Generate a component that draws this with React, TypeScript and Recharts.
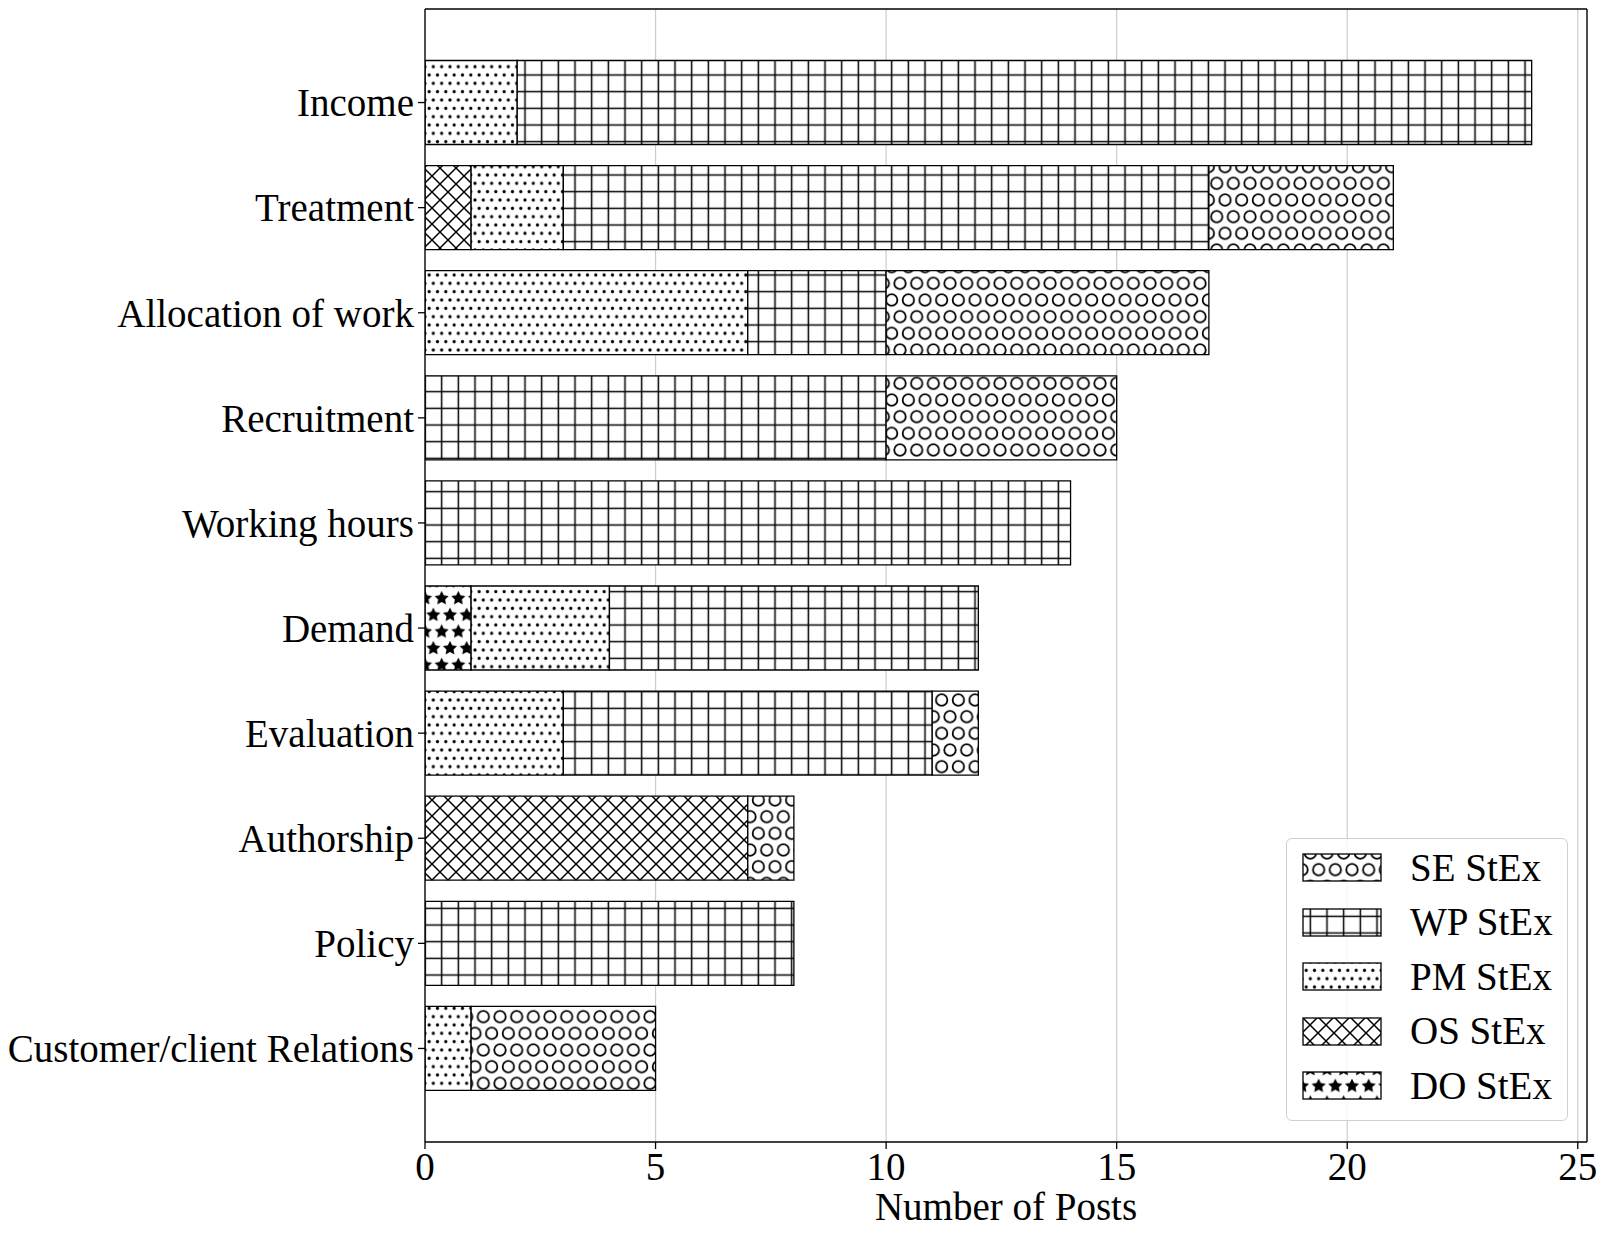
import React from 'react';
import { BarChart, Bar, XAxis, YAxis, CartesianGrid } from 'recharts';

const categories = [
  'Income',
  'Treatment',
  'Allocation of work',
  'Recruitment',
  'Working hours',
  'Demand',
  'Evaluation',
  'Authorship',
  'Policy',
  'Customer/client Relations',
];
const DO = [0, 0, 0, 0, 0, 1, 0, 0, 0, 0];
const OS = [0, 1, 0, 0, 0, 0, 0, 7, 0, 0];
const PM = [2, 2, 7, 0, 0, 3, 3, 0, 0, 1];
const WP = [22, 14, 3, 10, 14, 8, 8, 0, 8, 0];
const SE = [0, 4, 7, 5, 0, 0, 1, 1, 0, 4];
const xTicks = [0, 5, 10, 15, 20, 25];

const stackOrder = [
  { key: 'DO', pat: 'pStars', label: 'DO StEx' },
  { key: 'OS', pat: 'pCross', label: 'OS StEx' },
  { key: 'PM', pat: 'pDots', label: 'PM StEx' },
  { key: 'WP', pat: 'pGrid', label: 'WP StEx' },
  { key: 'SE', pat: 'pCircles', label: 'SE StEx' },
];
const legendOrder = ['SE', 'WP', 'PM', 'OS', 'DO'];

const FONT = '"Liberation Serif", "Times New Roman", serif';
const FS = 39;

function starPath(cx: number, cy: number, R: number, r: number) {
  const pts: string[] = [];
  for (let k = 0; k < 10; k++) {
    const a = (-90 + k * 36) * Math.PI / 180;
    const rad = k % 2 === 0 ? R : r;
    pts.push(`${(cx + rad * Math.cos(a)).toFixed(2)},${(cy + rad * Math.sin(a)).toFixed(2)}`);
  }
  return 'M' + pts.join('L') + 'Z';
}

const G = 16.667;
const D = 8.333;
const C = 16;

function Patterns() {
  return (
    <svg width={0} height={0} style={{ position: 'absolute', left: 0, top: 0 }}>
      <defs>
        <pattern id="pGrid" patternUnits="userSpaceOnUse" width={G} height={G}>
          <rect width={G} height={G} fill="#fff" />
          <path d={`M${G / 2},0V${G}M0,${G / 2}H${G}`} stroke="#000" strokeWidth={1.5} />
        </pattern>
        <pattern id="pDots" patternUnits="userSpaceOnUse" width={D} height={D * 2}>
          <rect width={D} height={D * 2} fill="#fff" />
          {[[0, 0], [D, 0], [0, 2 * D], [D, 2 * D], [D / 2, D]].map(([x, y], i) => (
            <circle key={i} cx={x} cy={y} r={1.6} fill="#000" />
          ))}
        </pattern>
        <pattern id="pCircles" patternUnits="userSpaceOnUse" width={G} height={G * 2}>
          <rect width={G} height={G * 2} fill="#fff" />
          {[[G / 2, 0], [G / 2, 2 * G], [0, G], [G, G]].map(([x, y], i) => (
            <circle key={i} cx={x} cy={y} r={5.7} fill="none" stroke="#000" strokeWidth={1.8} />
          ))}
        </pattern>
        <pattern id="pStars" patternUnits="userSpaceOnUse" width={G} height={G * 2}>
          <rect width={G} height={G * 2} fill="#fff" />
          {[[0, 15], [G, 15], [G / 2, 15 + G], [G / 2, 15 - G]].map(([x, y], i) => (
            <path key={i} d={starPath(x, y, 7.4, 3.7)} fill="#000" />
          ))}
        </pattern>
        <pattern id="pCross" patternUnits="userSpaceOnUse" width={C} height={C}>
          <rect width={C} height={C} fill="#fff" />
          <path
            d={`M-2,-2L${C + 2},${C + 2}M-2,${C + 2}L${C + 2},-2`}
            stroke="#000"
            strokeWidth={1.5}
          />
        </pattern>
      </defs>
    </svg>
  );
}

function LegendBox() {
  const rowTop = 853;
  const step = 54.5;
  return (
    <div
      style={{
        position: 'absolute',
        left: 1286,
        top: 838,
        width: 282,
        height: 283,
        boxSizing: 'border-box',
        border: '1.3px solid #d0d0d0',
        borderRadius: 6,
        background: 'rgba(255,255,255,0.85)',
      }}
    >
      {legendOrder.map((k, i) => {
        const s = stackOrder.find((o) => o.key === k)!;
        const y = rowTop + i * step - 838;
        return (
          <React.Fragment key={k}>
            <svg
              width={80}
              height={29}
              style={{ position: 'absolute', left: 1302 - 1286 - 1, top: y - 1 }}
            >
              <rect x={1} y={1} width={78} height={27} fill={`url(#${s.pat})`} stroke="#000" strokeWidth={1.3} />
            </svg>
            <div
              style={{
                position: 'absolute',
                left: 1409 - 1286,
                top: y + 13.5 - 22,
                height: 44,
                lineHeight: '44px',
                fontFamily: FONT,
                fontSize: FS,
                color: '#000',
                whiteSpace: 'nowrap',
              }}
            >
              {s.label}
            </div>
          </React.Fragment>
        );
      })}
    </div>
  );
}

const frameTop = (p: any) => [p.offset.top];
const frameRight = (p: any) => [p.offset.left + p.offset.width];

export default function App() {
  const data = categories.map((name, i) => ({
    name,
    DO: DO[i],
    OS: OS[i],
    PM: PM[i],
    WP: WP[i],
    SE: SE[i],
  }));
  return (
    <div style={{ position: 'absolute', left: 0, top: 0, width: 1607, height: 1237, background: '#fff' }}>
      <Patterns />
      <BarChart
        layout="vertical"
        width={1607}
        height={1237}
        data={data}
        margin={{ top: 9, right: 20, bottom: 0, left: 0 }}
        barCategoryGap="10%"
        style={{ fontFamily: FONT }}
      >
        <CartesianGrid horizontal={false} stroke="#cccccc" strokeWidth={1.2} />
        <CartesianGrid
          stroke="#000"
          strokeWidth={1.3}
          horizontalCoordinatesGenerator={frameTop}
          verticalCoordinatesGenerator={frameRight}
        />
        <XAxis
          type="number"
          domain={[0, 25.2]}
          ticks={xTicks}
          allowDataOverflow
          height={95}
          tickSize={7}
          tickMargin={3}
          stroke="#000"
          strokeWidth={1.3}
          tick={{ fill: '#000', fontSize: FS, fontFamily: FONT }}
          label={{
            value: 'Number of Posts',
            position: 'insideBottom',
            offset: 17,
            fill: '#000',
            fontSize: FS,
            fontFamily: FONT,
          }}
        />
        <YAxis
          type="category"
          dataKey="name"
          width={425}
          padding={{ top: 41, bottom: 41 }}
          tickSize={7}
          tickMargin={4}
          stroke="#000"
          strokeWidth={1.3}
          interval={0}
          tick={{ fill: '#000', fontSize: FS, fontFamily: FONT }}
        />
        {stackOrder.map((s) => (
          <Bar
            key={s.key}
            dataKey={s.key}
            stackId="a"
            fill={`url(#${s.pat})`}
            stroke="#000"
            strokeWidth={1.3}
            isAnimationActive={false}
          />
        ))}
      </BarChart>
      <LegendBox />
    </div>
  );
}
